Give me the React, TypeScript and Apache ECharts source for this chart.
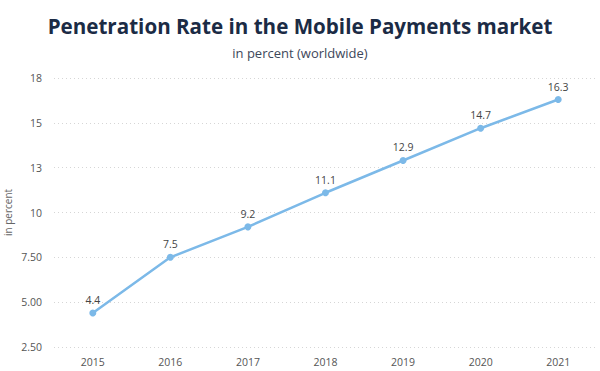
import React, { useEffect, useRef } from "react";
import * as echarts from "echarts";

const years = ["2015", "2016", "2017", "2018", "2019", "2020", "2021"];
const penetration = [4.4, 7.5, 9.2, 11.1, 12.9, 14.7, 16.3];
const yMin = 2.5;
const yMax = 17.5;
const yStep = 2.5;

export default function App() {
  const ref = useRef<HTMLDivElement>(null);
  useEffect(() => {
    if (!ref.current) return;
    const chart = echarts.init(ref.current, null, { renderer: "svg" });
    chart.setOption({
      animation: false,
      backgroundColor: "#ffffff",
      textStyle: { fontFamily: "Open Sans" },
      title: {
        text: "Penetration Rate in the Mobile Payments market",
        subtext: "in percent (worldwide)",
        left: "center",
        top: 10,
        itemGap: 10,
        textStyle: { fontFamily: "Open Sans", fontSize: 20.6, fontWeight: "bold", color: "#1b2b45" },
        subtextStyle: { fontFamily: "Open Sans", fontSize: 13, color: "#3d475a" },
      },
      grid: { left: 54, right: 3, top: 78, bottom: 24, outerBoundsMode: "none", containLabel: false },
      xAxis: {
        type: "category",
        data: years,
        boundaryGap: true,
        axisLine: { show: false },
        axisTick: { show: false },
        axisLabel: { color: "#555", fontSize: 10.5, margin: 9 },
      },
      yAxis: {
        type: "value",
        min: yMin,
        max: yMax,
        interval: yStep,
        name: "in percent",
        nameLocation: "middle",
        nameGap: 41,
        nameMoveOverlap: false,
        nameTextStyle: { color: "#666", fontSize: 10 },
        axisLine: { show: false },
        axisTick: { show: false },
        axisLabel: {
          color: "#555",
          fontSize: 10.5,
          margin: 12,
          formatter: (v: number) => (v >= 10 ? String(Math.round(v)) : v.toFixed(2)),
        },
        splitLine: { lineStyle: { type: [1, 3], color: "#d6d6d6", width: 1 } },
      },
      series: [
        {
          type: "line",
          data: penetration,
          symbol: "circle",
          symbolSize: 7,
          lineStyle: { color: "#7cb9e8", width: 2.5 },
          itemStyle: { color: "#7cb9e8" },
          label: { show: true, position: "top", color: "#444", fontSize: 10.5, distance: 4 },
        },
      ],
    });
    return () => chart.dispose();
  }, []);
  return <div ref={ref} style={{ width: 600, height: 371, position: "absolute", left: 0, top: 0 }} />;
}
